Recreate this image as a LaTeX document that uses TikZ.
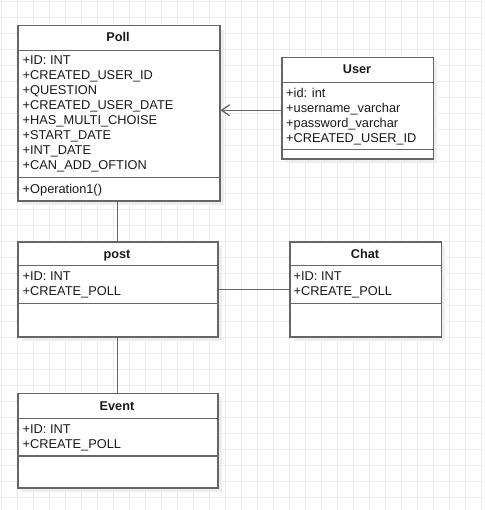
\documentclass[tikz,border=0pt]{standalone}
\usepackage{fontspec}
\setmainfont{Liberation Sans}
\usetikzlibrary{arrows.meta,shadows,calc}
\definecolor{stroke}{HTML}{666666}
\definecolor{gridc}{HTML}{EBEBEB}
\definecolor{shadowc}{HTML}{EEEEEE}
\definecolor{txt}{HTML}{1A1A1A}
\tikzset{
  box/.style={draw=stroke, fill=white, line width=1.5pt, rectangle, inner sep=0pt,
    anchor=north west, drop shadow={shadow xshift=4pt, shadow yshift=-4pt, fill=shadowc, opacity=1}},
  divider/.style={draw=stroke, line width=1.5pt},
  attr/.style={anchor=base west, inner sep=0pt, text=txt, font=\fontsize{12.8}{15}\selectfont},
  ttl/.style={anchor=base, inner sep=0pt, text=txt, font=\fontsize{12.7}{15}\selectfont\bfseries},
  conn/.style={draw=stroke, line width=1.3pt},
  gridline/.style={draw=gridc, line width=0.8pt}
}
\begin{document}
\begin{tikzpicture}[x=1pt,y=-1pt]
\useasboundingbox (0,0) rectangle (484,510);
\fill[white] (0,0) rectangle (484,510);
\foreach \i in {0,...,30} {\draw[gridline] ({1+16*\i},0) -- ({1+16*\i},510);}
\foreach \i in {0,...,31} {\draw[gridline] (0,{1+16*\i}) -- (484,{1+16*\i});}

% Poll
\node[box, minimum width=202pt, minimum height=175.5pt] (poll) at (17,25) {};
\draw[divider] ($(poll.north west)+(0,25.3)$) -- ($(poll.north east)+(0,25.3)$);
\draw[divider] ($(poll.north west)+(0,152.7)$) -- ($(poll.north east)+(0,152.7)$);
\node[ttl] (pollt) at (118,41.7) {Poll};
\node[attr] (p1) at (22.5,65) {+ID: INT};
\node[attr] (p2) at (22.5,80) {+CREATED\_USER\_ID};
\node[attr] (p3) at (22.5,95) {+QUESTION};
\node[attr] (p4) at (22.5,110) {+CREATED\_USER\_DATE};
\node[attr] (p5) at (22.5,125) {+HAS\_MULTI\_CHOISE};
\node[attr] (p6) at (22.5,140) {+START\_DATE};
\node[attr] (p7) at (22.5,155) {+INT\_DATE};
\node[attr] (p8) at (22.5,170) {+CAN\_ADD\_OFTION};
\node[attr] (p9) at (22.5,194) {+Operation1()};

% User
\node[box, minimum width=151.7pt, minimum height=101.6pt] (user) at (281,56.7) {};
\draw[divider] ($(user.north west)+(0,25.6)$) -- ($(user.north east)+(0,25.6)$);
\draw[divider] ($(user.north west)+(0,92.6)$) -- ($(user.north east)+(0,92.6)$);
\node[ttl] (usert) at (357,73.5) {User};
\node[attr] (u1) at (286,97.5) {+id: int};
\node[attr] (u2) at (286,112.5) {+username\_varchar};
\node[attr] (u3) at (286,127.5) {+password\_varchar};
\node[attr] (u4) at (286,142.5) {+CREATED\_USER\_ID};

% post
\node[box, minimum width=200pt, minimum height=95pt] (post) at (17,241) {};
\draw[divider] ($(post.north west)+(0,24.7)$) -- ($(post.north east)+(0,24.7)$);
\draw[divider] ($(post.north west)+(0,62.7)$) -- ($(post.north east)+(0,62.7)$);
\node[ttl] (postt) at (117,258.3) {post};
\node[attr] (po1) at (22.5,280.7) {+ID: INT};
\node[attr] (po2) at (22.5,295.7) {+CREATE\_POLL};

% Chat
\node[box, minimum width=151.7pt, minimum height=95pt] (chat) at (289,241) {};
\draw[divider] ($(chat.north west)+(0,24.7)$) -- ($(chat.north east)+(0,24.7)$);
\draw[divider] ($(chat.north west)+(0,62.7)$) -- ($(chat.north east)+(0,62.7)$);
\node[ttl] (chatt) at (365,258.3) {Chat};
\node[attr] (c1) at (293.5,280.7) {+ID: INT};
\node[attr] (c2) at (293.5,295.7) {+CREATE\_POLL};

% Event
\node[box, minimum width=200pt, minimum height=94.6pt] (event) at (17,392.7) {};
\draw[divider] ($(event.north west)+(0,25.6)$) -- ($(event.north east)+(0,25.6)$);
\draw[divider] ($(event.north west)+(0,63.3)$) -- ($(event.north east)+(0,63.3)$);
\node[ttl] (eventt) at (117,410) {Event};
\node[attr] (e1) at (22.5,433.3) {+ID: INT};
\node[attr] (e2) at (22.5,448.3) {+CREATE\_POLL};

% connectors
\draw[conn, -{Straight Barb[length=8pt,width=11pt]}] ([yshift=-2pt]user.west) -- ([yshift=-2pt]poll.east |- user.west);
\draw[conn] (poll.south -| post.north) -- (post.north);
\draw[conn] (post.east) -- (chat.west);
\draw[conn] (post.south) -- (event.north);
\end{tikzpicture}
\end{document}
